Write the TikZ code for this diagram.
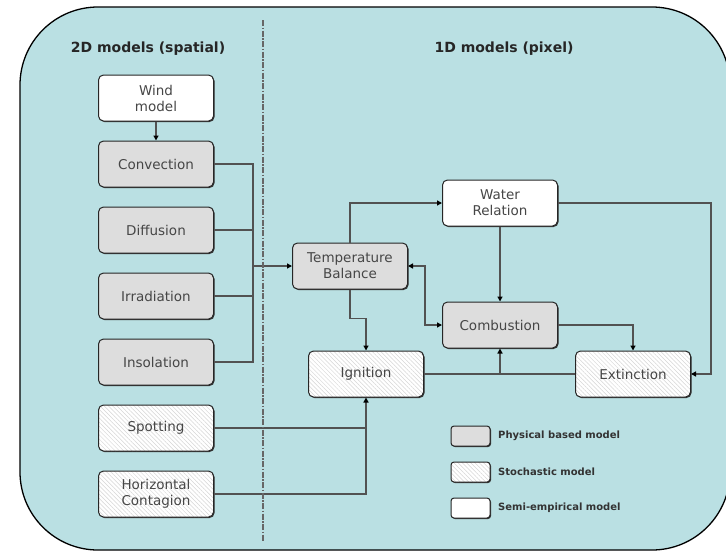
\documentclass[tikz,border=0pt]{standalone}
\usepackage{fontspec}
\setmainfont{DejaVu Sans}
\usetikzlibrary{arrows.meta,shadows,patterns.meta,calc}
\definecolor{bgc}{RGB}{186,224,227}
\definecolor{physc}{RGB}{221,221,221}
\definecolor{txtc}{RGB}{70,70,70}
\begin{document}
\begin{tikzpicture}[x=1pt,y=-1pt,
  mbox/.style={draw=black!85, line width=1pt, rounded corners=5pt,
    minimum width=115pt, minimum height=46pt, align=center, inner sep=1pt,
    font=\fontsize{13.5}{16}\selectfont, text=txtc,
    drop shadow={shadow xshift=1pt, shadow yshift=-1pt, fill=black!80, opacity=1}},
  phys/.style={mbox, fill=physc},
  semi/.style={mbox, fill=white},
  stoch/.style={mbox, preaction={fill=white}, pattern={Lines[angle=135,distance=3pt,line width=0.5pt]}, pattern color=black!16},
  lbox/.style={minimum width=39pt, minimum height=20pt, rounded corners=3pt},
  ltext/.style={anchor=west, font=\bfseries\fontsize{10}{12}\selectfont, text=black!80, inner sep=0pt},
  ttl/.style={font=\bfseries\fontsize{14}{16}\selectfont, text=black!85},
  conn/.style={draw=black!68, line width=1.3pt},
  arr/.style={conn, -{Triangle[length=5pt,width=5pt,fill=black,color=black]}},
  barr/.style={conn, {Triangle[length=5pt,width=5pt,fill=black,color=black]}-{Triangle[length=5pt,width=5pt,fill=black,color=black]}}
]
\useasboundingbox (0,0) rectangle (726,552);
\draw[fill=bgc, line width=1.3pt, rounded corners=78pt] (20,7) rectangle (730,550);

\node[ttl] (t2d) at (148,49) {2D models (spatial)};
\node[ttl] (t1d) at (504,49) {1D models (pixel)};

\node[semi] (wind) at (156,98) {Wind\\model};
\node[phys] (conv) at (156,164) {Convection};
\node[phys] (diff) at (156,230) {Diffusion};
\node[phys] (irr) at (156,296) {Irradiation};
\node[phys] (inso) at (156,362) {Insolation};
\node[stoch] (spot) at (156,428) {Spotting};
\node[stoch] (hcont) at (156,494) {Horizontal\\Contagion};

\node[phys] (tb) at (350,266) {Temperature\\Balance};
\node[semi] (water) at (500,203) {Water\\Relation};
\node[phys] (comb) at (500,325) {Combustion};
\node[stoch] (ign) at (366,374) {Ignition};
\node[stoch] (ext) at (633,374) {Extinction};

\coordinate (bus) at (253,0);
\coordinate (rx) at (711,0);

\draw[arr] (wind) -- (conv);
\draw[conn] (conv.east) -- (conv.east -| bus) -- (inso.east -| bus) -- (inso.east);
\draw[conn] (diff.east) -- (diff.east -| bus);
\draw[conn] (irr.east) -- (irr.east -| bus);
\draw[arr] (tb.west -| bus) -- (tb.west);
\draw[arr] (tb.north) |- (water.west);
\draw[arr] (tb.south) -- ++(0,29) -| (ign.north);
\draw[arr] (water.south) -- (comb.north);
\draw[arr] (water.east) -- (water.east -| rx) -- (ext.east -| rx) -- (ext.east);
\draw[arr] (comb.east) -| (ext.north);
\draw[barr] (tb.east) -- ++(17,0) |- (comb.west);
\draw[conn] (ign.east) -- (ext.west);
\draw[arr] (ign.east -| comb.south) -- (comb.south);
\draw[arr] (hcont.east) -| (ign.south);
\draw[conn] (spot.east) -- (spot.east -| ign.south);

\coordinate (dtop) at (263,20);
\coordinate (dbot) at (263,541);
\draw[black!60, line width=1.5pt, dash pattern=on 6pt off 1.5pt on 1.5pt off 1.5pt] (dtop) -- (dbot);

\node[phys, lbox] (l1) at (470.5,436) {};
\node[stoch, lbox] (l2) at (470.5,472) {};
\node[semi, lbox] (l3) at (470.5,508) {};
\node[ltext] (l1t) at (498,436) {Physical based model};
\node[ltext] (l2t) at (498,472) {Stochastic model};
\node[ltext] (l3t) at (498,508) {Semi-empirical model};
\end{tikzpicture}
\end{document}
